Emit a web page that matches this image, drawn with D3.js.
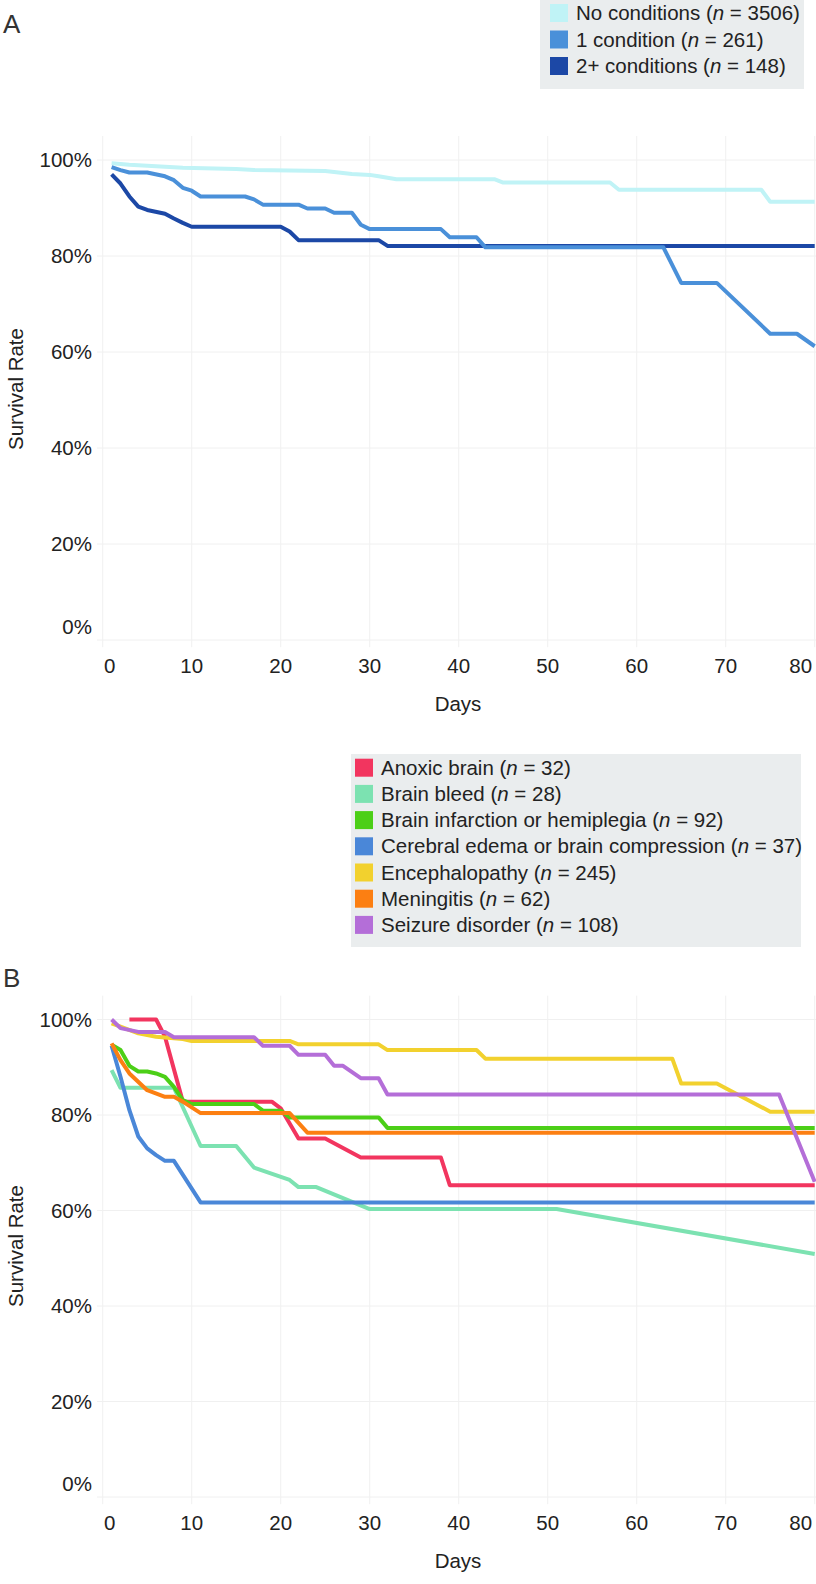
<!DOCTYPE html>
<html>
<head>
<meta charset="utf-8">
<script src="https://cdn.jsdelivr.net/npm/d3@7"></script>
<style>
  html, body { margin: 0; padding: 0; background: #fff; }
  svg { display: block; }
  text { font-family: "Liberation Sans", Arial, Helvetica, sans-serif; fill: #222; }
</style>
</head>
<body>
<svg id="chart" width="816" height="1584"></svg>
<script>
// ---------- DATA ----------
const xTicks = [0, 10, 20, 30, 40, 50, 60, 70, 80];
const yTicks = [0, 20, 40, 60, 80, 100];

// Panel A
const seriesA = ["No conditions", "1 condition", "2+ conditions"];
const nA = [3506, 261, 148];
const colorsA = ["#c0f3f6", "#4a90d9", "#1c48a6"];
const noCondDays = [1, 3, 5, 9, 15, 17, 25, 26, 28, 30, 31, 33, 44, 45, 57, 58, 74, 75, 80];
const noCondVals = [99.3, 99.0, 98.8, 98.4, 98.1, 97.9, 97.7, 97.5, 97.1, 96.9, 96.6, 96.0, 96.0, 95.3, 95.3, 93.8, 93.8, 91.3, 91.3];
const oneCondDays = [1, 2, 3, 5, 7, 8, 9, 10, 11, 16, 17, 18, 22, 23, 25, 26, 28, 29, 30, 38, 39, 42, 43, 63, 65, 69, 75, 78, 80];
const oneCondVals = [98.5, 97.9, 97.4, 97.4, 96.6, 95.8, 94.2, 93.6, 92.4, 92.4, 91.8, 90.7, 90.7, 89.9, 89.9, 89.0, 89.0, 86.5, 85.6, 85.6, 83.9, 83.9, 81.8, 81.8, 74.4, 74.4, 63.8, 63.8, 61.2];
const twoCondDays = [1, 2, 3, 4, 5, 7, 8, 9, 10, 20, 21, 22, 31, 32, 80];
const twoCondVals = [97.0, 95.1, 92.4, 90.3, 89.6, 88.8, 87.8, 86.9, 86.1, 86.1, 85.1, 83.3, 83.3, 82.1, 82.1];

// Panel B
const seriesB = ["Anoxic brain", "Brain bleed", "Brain infarction or hemiplegia", "Cerebral edema or brain compression", "Encephalopathy", "Meningitis", "Seizure disorder"];
const nB = [32, 28, 92, 37, 245, 62, 108];
const colorsB = ["#f2355f", "#7ce2b1", "#4ccf17", "#4a87d8", "#f2d12e", "#fc7f12", "#b46ed8"];
const anoxicDays = [3, 6, 7, 9, 19, 20, 22, 25, 29, 38, 39, 80];
const anoxicVals = [100, 100, 96.4, 82.8, 82.8, 81.4, 75.1, 75.1, 71.1, 71.1, 65.3, 65.3];
const bleedDays = [1, 2, 8, 11, 15, 17, 21, 22, 24, 30, 51, 80];
const bleedVals = [89.4, 85.7, 85.7, 73.5, 73.5, 69.0, 66.4, 64.9, 64.9, 60.3, 60.3, 50.9];
const infarctDays = [1, 2, 3, 4, 5, 6, 7, 8, 9, 10, 17, 18, 20, 21, 31, 32, 80];
const infarctVals = [94.7, 93.6, 90.3, 89.1, 89.1, 88.7, 88.0, 85.9, 83.1, 82.3, 82.3, 80.9, 80.9, 79.5, 79.5, 77.3, 77.3];
const edemaDays = [1, 2, 3, 4, 5, 6, 7, 8, 11, 80];
const edemaVals = [94.5, 88.0, 81.0, 75.5, 73.0, 71.6, 70.4, 70.4, 61.7, 61.7];
const encephDays = [1, 2, 4, 6, 9, 10, 21, 22, 31, 32, 42, 43, 64, 65, 69, 75, 80];
const encephVals = [99.2, 98.5, 97.1, 96.4, 95.9, 95.5, 95.5, 94.8, 94.8, 93.6, 93.6, 91.8, 91.8, 86.6, 86.6, 80.7, 80.7];
const meningDays = [1, 2, 3, 5, 7, 8, 9, 11, 21, 23, 80];
const meningVals = [95.0, 91.5, 88.7, 85.2, 83.8, 83.8, 82.8, 80.4, 80.4, 76.3, 76.3];
const seizureDays = [1, 2, 4, 7, 8, 17, 18, 21, 22, 25, 26, 27, 29, 31, 32, 76, 80];
const seizureVals = [100, 98.2, 97.4, 97.4, 96.3, 96.3, 94.5, 94.5, 92.6, 92.6, 90.3, 90.3, 87.7, 87.7, 84.3, 84.3, 66.0];

// ---------- DRAW ----------
const svg = d3.select("#chart");
svg.append("rect").attr("width", 816).attr("height", 1584).attr("fill", "#fff");

const FS = 20.5;
const x = d3.scaleLinear().domain([0, 80]).range([102.7, 814.7]);

function zip(days, vals) { return days.map((d, i) => ({ d: d, v: vals[i] })); }

function panel(opts) {
  const y = d3.scaleLinear().domain([0, 100]).range([opts.y0, opts.y100]);
  const top = y(105), bottom = y(-1.5), left = 97, right = 816;
  const g = svg.append("g");

  // gridlines
  g.append("g").selectAll("line").data(yTicks).join("line")
    .attr("x1", left).attr("x2", right)
    .attr("y1", d => y(d)).attr("y2", d => y(d))
    .attr("stroke", "#f0f0f0").attr("stroke-width", 1);
  g.append("g").selectAll("line").data(xTicks).join("line")
    .attr("x1", d => x(d)).attr("x2", d => x(d))
    .attr("y1", top).attr("y2", bottom)
    .attr("stroke", "#f0f0f0").attr("stroke-width", 1);

  // y tick labels (edge label nudged inward, as in the reference)
  g.append("g").selectAll("text").data(yTicks).join("text")
    .attr("x", 92).attr("y", d => y(d) + (d === 0 ? -13 : 0)).attr("dy", "0.35em")
    .attr("text-anchor", "end").style("font-size", FS + "px")
    .text(d => d + "%");

  // x tick labels
  g.append("g").selectAll("text").data(xTicks).join("text")
    .attr("x", d => x(d) + (d === 0 ? 7 : d === 80 ? -14 : 0))
    .attr("y", opts.y0 + 33)
    .attr("text-anchor", "middle").style("font-size", FS + "px")
    .text(d => d);

  // axis titles
  g.append("text").attr("x", 458).attr("y", opts.y0 + 71)
    .attr("text-anchor", "middle").style("font-size", FS + "px").text("Days");
  g.append("text").attr("transform", `translate(23,${opts.y0 - 251}) rotate(-90)`)
    .attr("text-anchor", "middle").style("font-size", FS + "px").text("Survival Rate");

  // panel letter
  g.append("text").attr("x", 3).attr("y", opts.letterY)
    .style("font-size", "26px").style("fill", "#333").text(opts.letter);

  // lines
  const line = d3.line().x(p => x(p.d)).y(p => y(p.v));
  const clipId = "clip" + opts.letter;
  svg.append("clipPath").attr("id", clipId).append("rect")
    .attr("x", left).attr("y", top - 5).attr("width", right - left).attr("height", bottom - top + 10);
  const lg = g.append("g").attr("clip-path", `url(#${clipId})`);
  opts.order.forEach(i => {
    lg.append("path").datum(opts.data[i])
      .attr("d", line).attr("fill", "none")
      .attr("stroke", opts.colors[i]).attr("stroke-width", 4)
      .attr("stroke-linejoin", "round");
  });

  // legend
  const L = opts.legend;
  const leg = svg.append("g");
  leg.append("rect").attr("x", L.x).attr("y", L.y).attr("width", L.w).attr("height", L.h).attr("fill", "#eaedee");
  opts.names.forEach((name, i) => {
    const cy = L.firstRow + i * L.step;
    leg.append("rect").attr("x", L.x + L.sw).attr("y", cy - 9).attr("width", 18).attr("height", 18).attr("fill", opts.colors[i]);
    const t = leg.append("text").attr("x", L.x + L.sw + 26).attr("y", cy).attr("dy", "0.35em").style("font-size", FS + "px");
    t.append("tspan").text(name + " (");
    t.append("tspan").style("font-style", "italic").text("n");
    t.append("tspan").text(" = " + opts.ns[i] + ")");
  });
}

panel({
  letter: "A", letterY: 33, y0: 640, y100: 160,
  data: [zip(noCondDays, noCondVals), zip(oneCondDays, oneCondVals), zip(twoCondDays, twoCondVals)],
  colors: colorsA, names: seriesA, ns: nA, order: [0, 2, 1],
  legend: { x: 540, y: 0, w: 264, h: 89, sw: 10, firstRow: 13, step: 26.5 }
});

panel({
  letter: "B", letterY: 987, y0: 1497, y100: 1019.5,
  data: [zip(anoxicDays, anoxicVals), zip(bleedDays, bleedVals), zip(infarctDays, infarctVals),
         zip(edemaDays, edemaVals), zip(encephDays, encephVals), zip(meningDays, meningVals),
         zip(seizureDays, seizureVals)],
  colors: colorsB, names: seriesB, ns: nB, order: [0, 1, 2, 3, 4, 5, 6],
  legend: { x: 351, y: 754, w: 450, h: 193, sw: 4, firstRow: 767.7, step: 26.2 }
});
</script>
</body>
</html>
